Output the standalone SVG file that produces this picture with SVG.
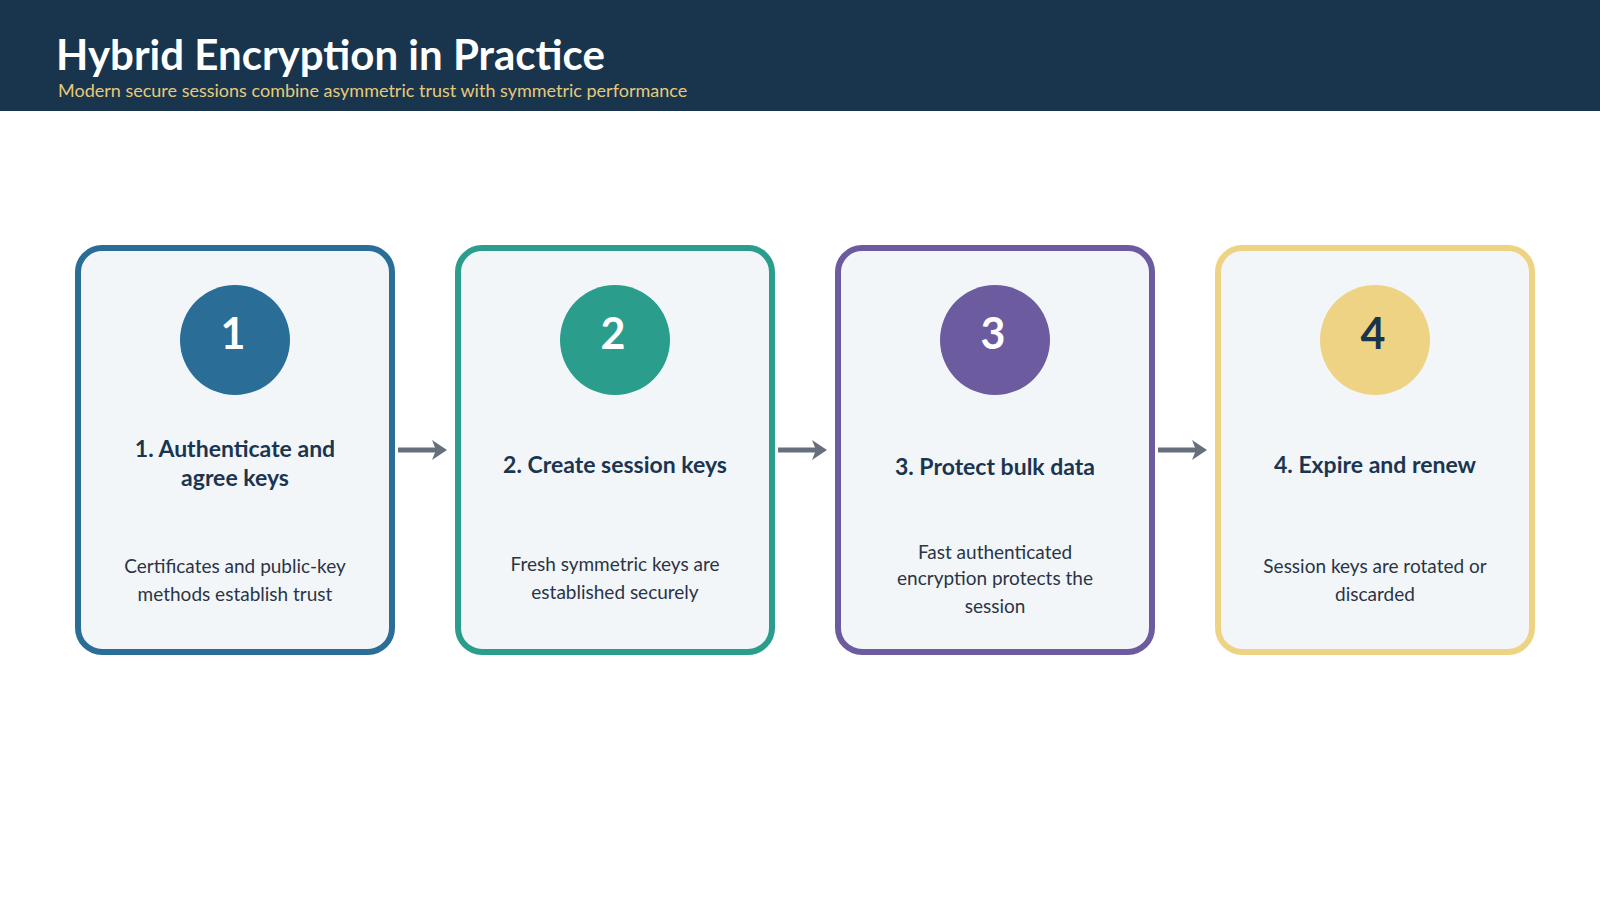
<svg xmlns="http://www.w3.org/2000/svg" width="1600" height="900" viewBox="0 0 1600 900">
  <style>
    .card { fill: #f2f6f9; stroke-width: 6; }
    .num { font-family: Lato, "Liberation Sans", sans-serif; font-size: 43px; font-weight: 700; text-anchor: middle; }
    .title { font-family: Lato, "Liberation Sans", sans-serif; font-size: 23px; font-weight: 700; fill: #1b3550; text-anchor: middle; }
    .desc { font-family: Lato, "Liberation Sans", sans-serif; font-size: 19px; fill: #2b3445; text-anchor: middle; }
    .conn { stroke: #676f7c; stroke-width: 5; fill: none; }
    .head { fill: #676f7c; }
  </style>
  <rect x="0" y="0" width="1600" height="900" fill="#ffffff"/>
  <g id="header">
    <rect x="0" y="0" width="1600" height="111" fill="#18354d"/>
    <text x="56" y="70" font-family="Lato, 'Liberation Sans', sans-serif" font-size="42" font-weight="700" fill="#ffffff">Hybrid Encryption in Practice</text>
    <text x="58" y="97" font-family="Lato, 'Liberation Sans', sans-serif" font-size="18" fill="#e8c979">Modern secure sessions combine asymmetric trust with symmetric performance</text>
  </g>
  <g id="connectors">
    <line class="conn" x1="398" y1="450" x2="438" y2="450"/>
    <path class="head" d="M432,440 L447,450 L432,460 L436,450 Z"/>
    <line class="conn" x1="778" y1="450" x2="818" y2="450"/>
    <path class="head" d="M812,440 L827,450 L812,460 L816,450 Z"/>
    <line class="conn" x1="1158" y1="450" x2="1198" y2="450"/>
    <path class="head" d="M1192,440 L1207,450 L1192,460 L1196,450 Z"/>
  </g>
  <g id="step1">
    <rect class="card" x="78" y="248" width="314" height="404" rx="24" stroke="#2a6d96"/>
    <circle cx="235" cy="340" r="55" fill="#2a6d96"/>
    <text class="num" x="233" y="349" fill="#ffffff">1</text>
    <text class="title" x="235" y="457">1. Authenticate and</text>
    <text class="title" x="235" y="486">agree keys</text>
    <text class="desc" x="235" y="573">Certificates and public-key</text>
    <text class="desc" x="235" y="601">methods establish trust</text>
  </g>
  <g id="step2">
    <rect class="card" x="458" y="248" width="314" height="404" rx="24" stroke="#2a9d8c"/>
    <circle cx="615" cy="340" r="55" fill="#2a9d8c"/>
    <text class="num" x="613" y="349" fill="#ffffff">2</text>
    <text class="title" x="615" y="473">2. Create session keys</text>
    <text class="desc" x="615" y="571">Fresh symmetric keys are</text>
    <text class="desc" x="615" y="599">established securely</text>
  </g>
  <g id="step3">
    <rect class="card" x="838" y="248" width="314" height="404" rx="24" stroke="#6c5b9e"/>
    <circle cx="995" cy="340" r="55" fill="#6c5b9e"/>
    <text class="num" x="993" y="349" fill="#ffffff">3</text>
    <text class="title" x="995" y="475">3. Protect bulk data</text>
    <text class="desc" x="995" y="559">Fast authenticated</text>
    <text class="desc" x="995" y="585">encryption protects the</text>
    <text class="desc" x="995" y="613">session</text>
  </g>
  <g id="step4">
    <rect class="card" x="1218" y="248" width="314" height="404" rx="24" stroke="#efd384"/>
    <circle cx="1375" cy="340" r="55" fill="#efd384"/>
    <text class="num" x="1373" y="349" fill="#18354d">4</text>
    <text class="title" x="1375" y="473">4. Expire and renew</text>
    <text class="desc" x="1375" y="573">Session keys are rotated or</text>
    <text class="desc" x="1375" y="601">discarded</text>
  </g>
</svg>
